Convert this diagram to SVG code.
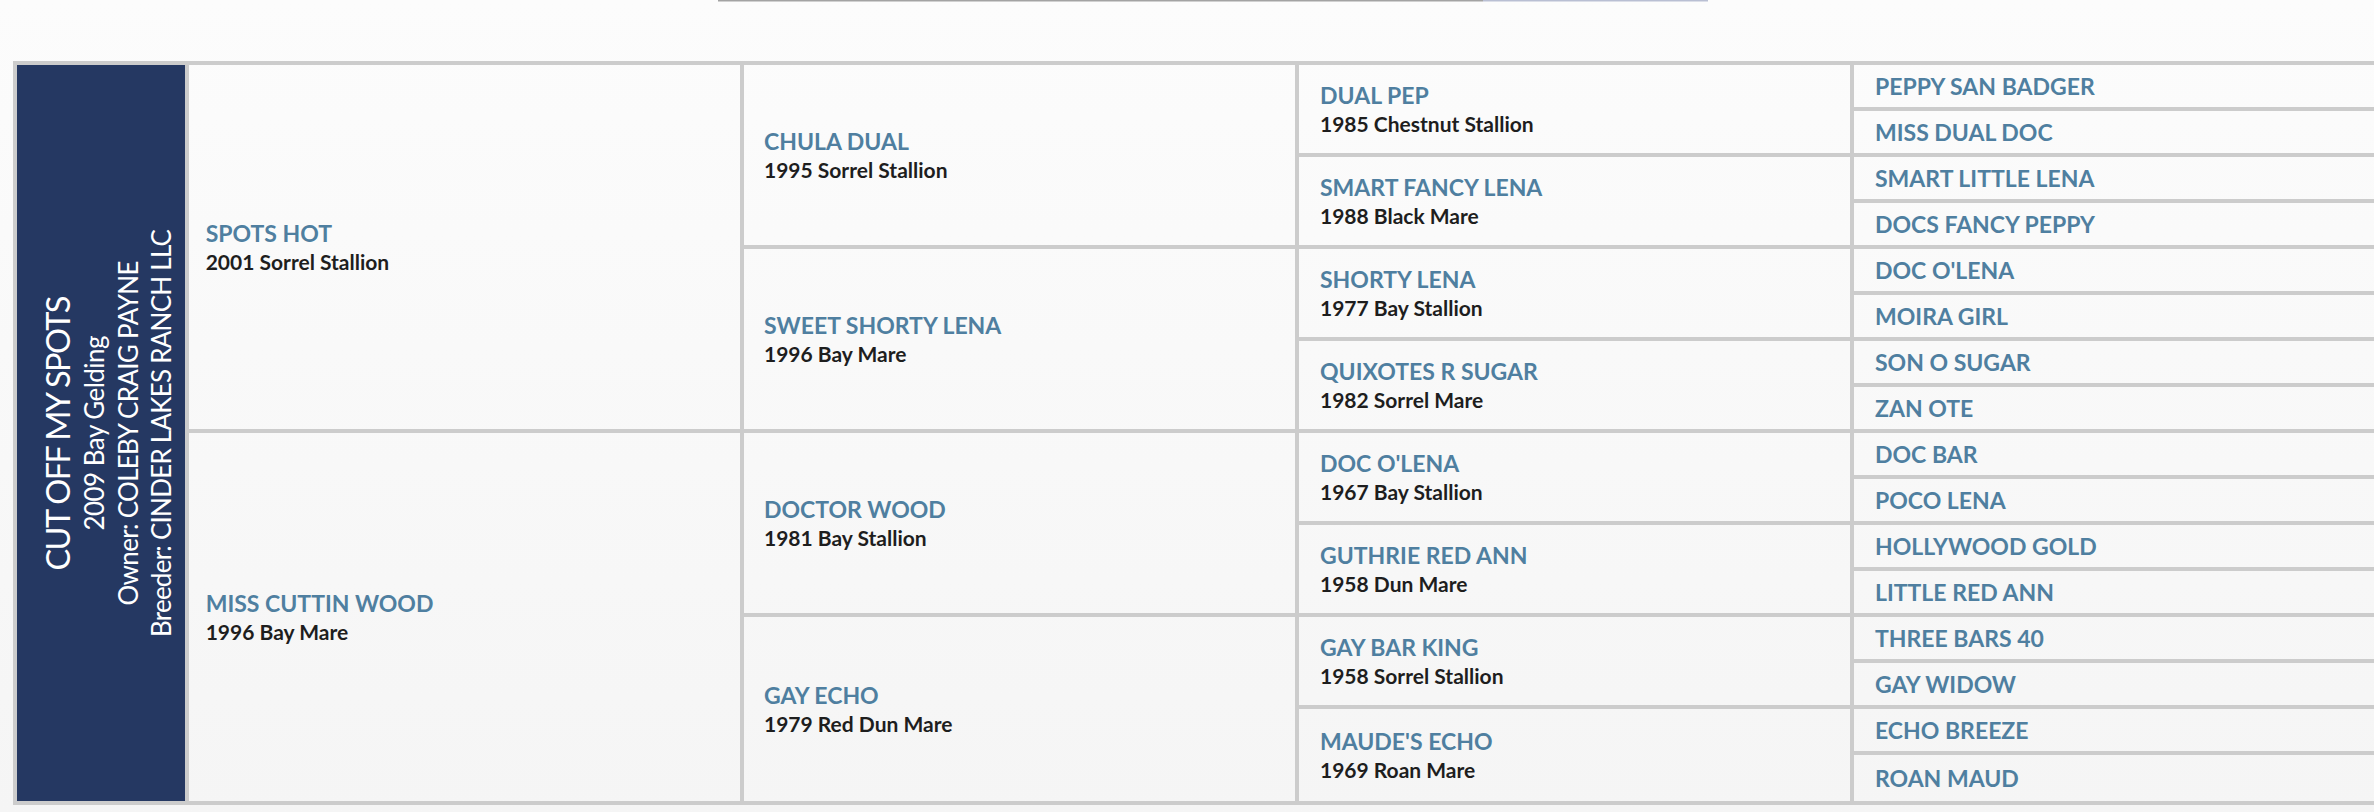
<svg xmlns="http://www.w3.org/2000/svg" width="2374" height="812" viewBox="0 0 2374 812">
<defs>
<linearGradient id="pagebg" gradientUnits="userSpaceOnUse" x1="0" y1="0" x2="0" y2="812">
<stop offset="0" stop-color="#fcfcfc"/><stop offset="1" stop-color="#f5f5f5"/>
</linearGradient>
<style>
.cell{fill:url(#pagebg)}
.nm{font-family:Lato,"Liberation Sans",sans-serif;font-weight:700;font-size:23px;fill:#4f7fa0}
.dt{font-family:Lato,"Liberation Sans",sans-serif;font-weight:700;font-size:21px;fill:#1e1e1e}
.rt{font-family:Lato,"Liberation Sans",sans-serif;font-weight:400;fill:#ffffff;text-anchor:middle}
</style>
</defs>
<rect x="0" y="0" width="2374" height="812" fill="url(#pagebg)"/>
<rect x="718" y="0" width="765" height="1.5" fill="#a3a3a3"/>
<rect x="1483" y="0" width="225" height="1.5" fill="#b9bfd3"/>
<rect id="grid" x="13" y="61" width="2361" height="744" fill="#cccccc"/>
<g id="connectors"></g>
<g id="subject">
<rect x="17" y="65" width="168" height="736" fill="#253862"/>
<text class="rt" font-size="32.5" transform="translate(70,433) rotate(-90)" textLength="275">CUT OFF MY SPOTS</text>
<text class="rt" font-size="26" transform="translate(104,433) rotate(-90)" textLength="195">2009 Bay Gelding</text>
<text class="rt" font-size="26" transform="translate(137.5,433) rotate(-90)" textLength="345">Owner: COLEBY CRAIG PAYNE</text>
<text class="rt" font-size="26" transform="translate(171,433) rotate(-90)" textLength="408">Breeder: CINDER LAKES RANCH LLC</text>
</g>
<g id="sire"><rect class="cell" x="189" y="65" width="551" height="364"/><text class="nm" x="205.7" y="242">SPOTS HOT</text><text class="dt" x="205.7" y="269.5">2001 Sorrel Stallion</text></g>
<g id="dam"><rect class="cell" x="189" y="433" width="551" height="368"/><text class="nm" x="205.7" y="612">MISS CUTTIN WOOD</text><text class="dt" x="205.7" y="639.5">1996 Bay Mare</text></g>
<g id="ss"><rect class="cell" x="744" y="65" width="551" height="180"/><text class="nm" x="764" y="150">CHULA DUAL</text><text class="dt" x="764" y="177.5">1995 Sorrel Stallion</text></g>
<g id="sd"><rect class="cell" x="744" y="249" width="551" height="180"/><text class="nm" x="764" y="334">SWEET SHORTY LENA</text><text class="dt" x="764" y="361.5">1996 Bay Mare</text></g>
<g id="ds"><rect class="cell" x="744" y="433" width="551" height="180"/><text class="nm" x="764" y="518">DOCTOR WOOD</text><text class="dt" x="764" y="545.5">1981 Bay Stallion</text></g>
<g id="dd"><rect class="cell" x="744" y="617" width="551" height="184"/><text class="nm" x="764" y="704">GAY ECHO</text><text class="dt" x="764" y="731.5">1979 Red Dun Mare</text></g>
<g id="sss"><rect class="cell" x="1299" y="65" width="551" height="88"/><text class="nm" x="1320" y="104">DUAL PEP</text><text class="dt" x="1320" y="131.5">1985 Chestnut Stallion</text></g>
<g id="ssd"><rect class="cell" x="1299" y="157" width="551" height="88"/><text class="nm" x="1320" y="196">SMART FANCY LENA</text><text class="dt" x="1320" y="223.5">1988 Black Mare</text></g>
<g id="sds"><rect class="cell" x="1299" y="249" width="551" height="88"/><text class="nm" x="1320" y="288">SHORTY LENA</text><text class="dt" x="1320" y="315.5">1977 Bay Stallion</text></g>
<g id="sdd"><rect class="cell" x="1299" y="341" width="551" height="88"/><text class="nm" x="1320" y="380">QUIXOTES R SUGAR</text><text class="dt" x="1320" y="407.5">1982 Sorrel Mare</text></g>
<g id="dss"><rect class="cell" x="1299" y="433" width="551" height="88"/><text class="nm" x="1320" y="472">DOC O'LENA</text><text class="dt" x="1320" y="499.5">1967 Bay Stallion</text></g>
<g id="dsd"><rect class="cell" x="1299" y="525" width="551" height="88"/><text class="nm" x="1320" y="564">GUTHRIE RED ANN</text><text class="dt" x="1320" y="591.5">1958 Dun Mare</text></g>
<g id="dds"><rect class="cell" x="1299" y="617" width="551" height="88"/><text class="nm" x="1320" y="656">GAY BAR KING</text><text class="dt" x="1320" y="683.5">1958 Sorrel Stallion</text></g>
<g id="ddd"><rect class="cell" x="1299" y="709" width="551" height="92"/><text class="nm" x="1320" y="750">MAUDE'S ECHO</text><text class="dt" x="1320" y="777.5">1969 Roan Mare</text></g>
<g id="g4-1"><rect class="cell" x="1854" y="65" width="520" height="42"/><text class="nm" x="1875" y="94.5">PEPPY SAN BADGER</text></g>
<g id="g4-2"><rect class="cell" x="1854" y="111" width="520" height="42"/><text class="nm" x="1875" y="140.5">MISS DUAL DOC</text></g>
<g id="g4-3"><rect class="cell" x="1854" y="157" width="520" height="42"/><text class="nm" x="1875" y="186.5">SMART LITTLE LENA</text></g>
<g id="g4-4"><rect class="cell" x="1854" y="203" width="520" height="42"/><text class="nm" x="1875" y="232.5">DOCS FANCY PEPPY</text></g>
<g id="g4-5"><rect class="cell" x="1854" y="249" width="520" height="42"/><text class="nm" x="1875" y="278.5">DOC O'LENA</text></g>
<g id="g4-6"><rect class="cell" x="1854" y="295" width="520" height="42"/><text class="nm" x="1875" y="324.5">MOIRA GIRL</text></g>
<g id="g4-7"><rect class="cell" x="1854" y="341" width="520" height="42"/><text class="nm" x="1875" y="370.5">SON O SUGAR</text></g>
<g id="g4-8"><rect class="cell" x="1854" y="387" width="520" height="42"/><text class="nm" x="1875" y="416.5">ZAN OTE</text></g>
<g id="g4-9"><rect class="cell" x="1854" y="433" width="520" height="42"/><text class="nm" x="1875" y="462.5">DOC BAR</text></g>
<g id="g4-10"><rect class="cell" x="1854" y="479" width="520" height="42"/><text class="nm" x="1875" y="508.5">POCO LENA</text></g>
<g id="g4-11"><rect class="cell" x="1854" y="525" width="520" height="42"/><text class="nm" x="1875" y="554.5">HOLLYWOOD GOLD</text></g>
<g id="g4-12"><rect class="cell" x="1854" y="571" width="520" height="42"/><text class="nm" x="1875" y="600.5">LITTLE RED ANN</text></g>
<g id="g4-13"><rect class="cell" x="1854" y="617" width="520" height="42"/><text class="nm" x="1875" y="646.5">THREE BARS 40</text></g>
<g id="g4-14"><rect class="cell" x="1854" y="663" width="520" height="42"/><text class="nm" x="1875" y="692.5">GAY WIDOW</text></g>
<g id="g4-15"><rect class="cell" x="1854" y="709" width="520" height="42"/><text class="nm" x="1875" y="738.5">ECHO BREEZE</text></g>
<g id="g4-16"><rect class="cell" x="1854" y="755" width="520" height="46"/><text class="nm" x="1875" y="786.5">ROAN MAUD</text></g>
</svg>
